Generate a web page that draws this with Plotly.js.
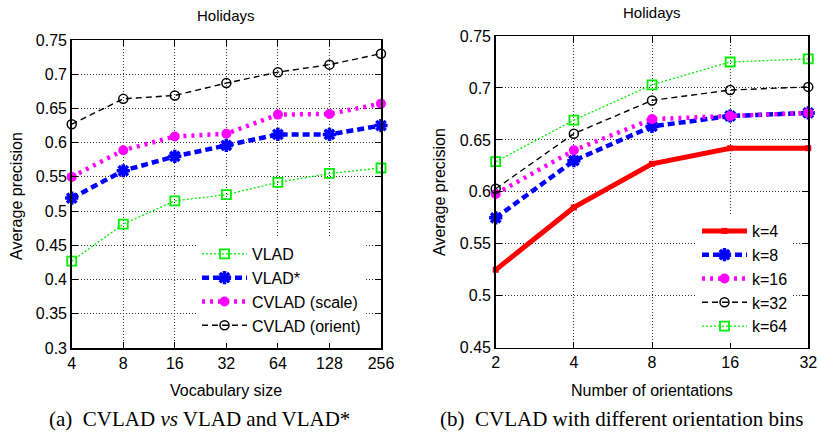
<!DOCTYPE html>
<html>
<head>
<meta charset="utf-8">
<script src="https://cdn.plot.ly/plotly-3.0.1.min.js"></script>
<style>html,body{margin:0;padding:0;background:#fff;}#chart{width:819px;height:438px;}</style>
</head>
<body>
<div id="chart"></div>
<script>
// ---- data ----
var vocabSizes = [4, 8, 16, 32, 64, 128, 256];
var vocabLabels = ['4', '8', '16', '32', '64', '128', '256'];
var vlad        = [0.427, 0.481, 0.515, 0.524, 0.542, 0.555, 0.563];
var vladStar    = [0.519, 0.559, 0.580, 0.596, 0.612, 0.612, 0.625];
var cvladScale  = [0.550, 0.589, 0.609, 0.613, 0.641, 0.642, 0.657];
var cvladOrient = [0.627, 0.664, 0.669, 0.687, 0.703, 0.714, 0.730];

var orientations = [2, 4, 8, 16, 32];
var orientLabels = ['2', '4', '8', '16', '32'];
var k4  = [0.525, 0.585, 0.627, 0.642, 0.642];
var k8  = [0.575, 0.630, 0.663, 0.673, 0.676];
var k16 = [0.598, 0.640, 0.670, 0.673, 0.676];
var k32 = [0.603, 0.656, 0.688, 0.698, 0.701];
var k64 = [0.629, 0.669, 0.703, 0.725, 0.728];

var leftNames  = ['VLAD', 'VLAD*', 'CVLAD (scale)', 'CVLAD (orient)'];
var rightNames = ['k=4', 'k=8', 'k=16', 'k=32', 'k=64'];

// ---- styles ----
var W = 819, H = 438;
function px(x) { return x / W; }
function py(y) { return 1 - y / H; }
var FONT = 'Liberation Sans, Arial, sans-serif';
var SERIF = 'Liberation Serif, Times New Roman, serif';
var EPS = 1e-4; // tiny pad so edge points are not dropped by float rounding

var styles = {
  green:   {line: {color: '#00ee00', width: 1.3, dash: '2px,2px'}, marker: {symbol: 'square-open', size: 9, color: '#00ee00', line: {width: 1.8, color: '#00ee00'}}},
  blue:    {line: {color: '#0000ff', width: 4.5, dash: '7px,4px'}, marker: {symbol: 'asterisk-open', size: 11, color: '#0000ff', line: {width: 3.5, color: '#0000ff'}}},
  magenta: {line: {color: '#ff00ff', width: 4.5, dash: '3px,5px'}, marker: {symbol: 'circle', size: 10, color: '#ff00ff'}},
  black:   {line: {color: '#000000', width: 1.4, dash: '6px,4px'}, marker: {symbol: 'circle-open', size: 9, color: '#000000', line: {width: 1.5, color: '#000000'}}},
  red:     {line: {color: '#ff0000', width: 5}, marker: {symbol: 'square', size: 6, color: '#ff0000'}}
};

function tr(x, y, name, st, xa, ya, lg) {
  return {
    x: x, y: y, name: name, type: 'scatter', mode: 'lines+markers',
    xaxis: xa, yaxis: ya, legend: lg, cliponaxis: false,
    line: st.line, marker: st.marker
  };
}

var data = [
  tr(vocabSizes, vlad,        leftNames[0], styles.green,   'x', 'y', 'legend'),
  tr(vocabSizes, vladStar,    leftNames[1], styles.blue,    'x', 'y', 'legend'),
  tr(vocabSizes, cvladScale,  leftNames[2], styles.magenta, 'x', 'y', 'legend'),
  tr(vocabSizes, cvladOrient, leftNames[3], styles.black,   'x', 'y', 'legend'),
  tr(orientations, k4,  rightNames[0], styles.red,     'x2', 'y2', 'legend2'),
  tr(orientations, k8,  rightNames[1], styles.blue,    'x2', 'y2', 'legend2'),
  tr(orientations, k16, rightNames[2], styles.magenta, 'x2', 'y2', 'legend2'),
  tr(orientations, k32, rightNames[3], styles.black,   'x2', 'y2', 'legend2'),
  tr(orientations, k64, rightNames[4], styles.green,   'x2', 'y2', 'legend2')
];

var axisCommon = {
  showline: true, linecolor: '#000', linewidth: 1.5, mirror: 'ticks',
  ticks: 'inside', ticklen: 6, tickwidth: 1, tickcolor: '#000',
  showgrid: true, gridcolor: '#333', gridwidth: 1, griddash: '1px,2px',
  zeroline: false, automargin: false,
  tickfont: {family: FONT, size: 16, color: '#000'}
};
function ax(extra) { return Object.assign({}, axisCommon, extra); }

var layout = {
  width: W, height: H,
  margin: {l: 0, r: 0, t: 0, b: 0},
  paper_bgcolor: '#fff', plot_bgcolor: '#fff',
  showlegend: true,
  xaxis: ax({domain: [px(71.7), px(381)], type: 'log',
             range: [Math.log10(vocabSizes[0]) - EPS, Math.log10(vocabSizes[vocabSizes.length - 1]) + EPS],
             tickmode: 'array', tickvals: vocabSizes, ticktext: vocabLabels, anchor: 'y'}),
  yaxis: ax({domain: [py(348), py(40)], range: [0.3, 0.75], dtick: 0.05, tick0: 0.3, anchor: 'x'}),
  xaxis2: ax({domain: [px(495.7), px(808.3)], type: 'log',
              range: [Math.log10(orientations[0]) - EPS, Math.log10(orientations[orientations.length - 1]) + EPS],
              tickmode: 'array', tickvals: orientations, ticktext: orientLabels, anchor: 'y2'}),
  yaxis2: ax({domain: [py(347.7), py(36)], range: [0.45, 0.75], dtick: 0.05, tick0: 0.45, anchor: 'x2'}),
  legend: {x: px(366), xanchor: 'right', y: py(343), yanchor: 'bottom', itemwidth: 45,
           bgcolor: '#fff', borderwidth: 0, font: {family: FONT, size: 16, color: '#000'}},
  legend2: {x: px(793), xanchor: 'right', y: py(343), yanchor: 'bottom', itemwidth: 45,
            bgcolor: '#fff', borderwidth: 0, font: {family: FONT, size: 16, color: '#000'}},
  annotations: [
    {text: 'Holidays', xref: 'paper', yref: 'paper', x: px(226), y: py(15), xanchor: 'center', yanchor: 'middle', showarrow: false, font: {family: FONT, size: 15, color: '#000'}},
    {text: 'Holidays', xref: 'paper', yref: 'paper', x: px(652), y: py(12), xanchor: 'center', yanchor: 'middle', showarrow: false, font: {family: FONT, size: 15, color: '#000'}},
    {text: 'Vocabulary size', xref: 'paper', yref: 'paper', x: px(226), y: py(390), xanchor: 'center', yanchor: 'middle', showarrow: false, font: {family: FONT, size: 16, color: '#000'}},
    {text: 'Number of orientations', xref: 'paper', yref: 'paper', x: px(652), y: py(390), xanchor: 'center', yanchor: 'middle', showarrow: false, font: {family: FONT, size: 16, color: '#000'}},
    {text: 'Average precision', xref: 'paper', yref: 'paper', x: px(16), y: py(196), xanchor: 'center', yanchor: 'middle', textangle: -90, showarrow: false, font: {family: FONT, size: 16, color: '#000'}},
    {text: 'Average precision', xref: 'paper', yref: 'paper', x: px(439), y: py(192), xanchor: 'center', yanchor: 'middle', textangle: -90, showarrow: false, font: {family: FONT, size: 16, color: '#000'}},
    {text: '(a)\u00a0 CVLAD <i>vs</i> VLAD and VLAD*', xref: 'paper', yref: 'paper', x: px(199), y: py(419), xanchor: 'center', yanchor: 'middle', showarrow: false, font: {family: SERIF, size: 21, color: '#000'}},
    {text: '(b)\u00a0 CVLAD with different orientation bins', xref: 'paper', yref: 'paper', x: px(622), y: py(419), xanchor: 'center', yanchor: 'middle', showarrow: false, font: {family: SERIF, size: 21, color: '#000'}}
  ]
};

Plotly.newPlot('chart', data, layout, {displayModeBar: false, staticPlot: true});
</script>
</body>
</html>
